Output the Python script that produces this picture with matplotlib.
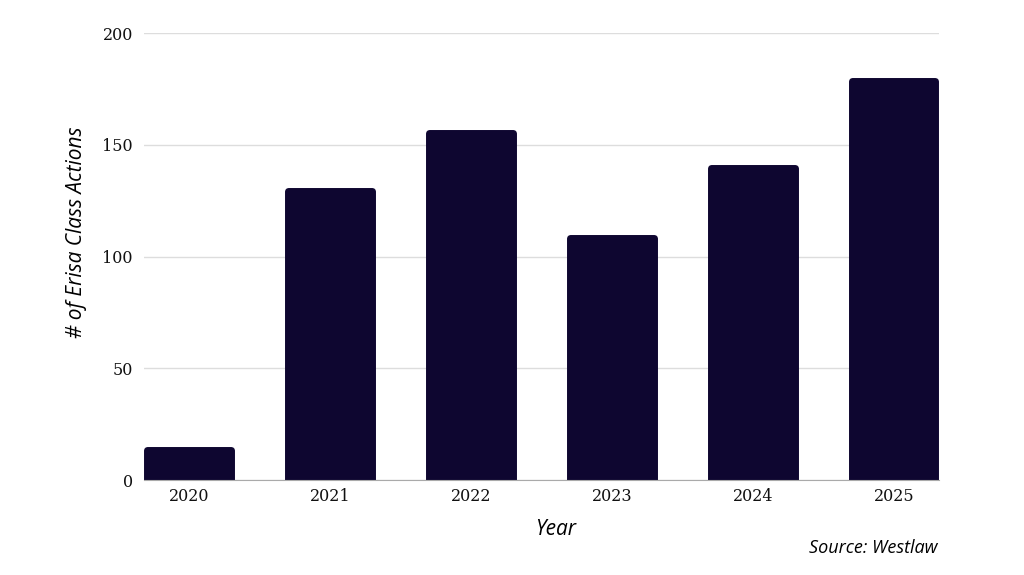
import matplotlib
matplotlib.use('Agg')
import matplotlib.pyplot as plt

years = ['2020', '2021', '2022', '2023', '2024', '2025']
actions = [15, 131, 157, 110, 141, 180]
y_ticks = [0, 50, 100, 150, 200]

bar_color = '#0e0630'

fig = plt.figure(figsize=(10.24, 5.75), dpi=100)
ax = fig.add_axes([0.1406, 0.1652, 0.7764, 0.7774])

x = range(len(years))
# thick round-joined edge gives the rounded corners; shrink the body to compensate
lw = 5
ax.bar(x, [v + 3 - 1.55 for v in actions], width=0.59, bottom=-3, color=bar_color,
       edgecolor=bar_color, linewidth=lw, joinstyle='round', zorder=3)

ax.set_xlim(-0.32, len(years) - 1 + 0.32)
ax.set_ylim(0, 200)
ax.set_yticks(y_ticks)
ax.set_xticks(list(x))
ax.set_xticklabels(years)
ax.yaxis.grid(True, color='#dddddd', linewidth=1, zorder=0)
ax.tick_params(length=0, labelsize=11.5)
ax.tick_params(axis='y', pad=8)
ax.tick_params(axis='x', pad=6)
for lab in ax.get_xticklabels() + ax.get_yticklabels():
    lab.set_fontfamily('DejaVu Serif')
    lab.set_color('#111111')

for side in ['top', 'right', 'left']:
    ax.spines[side].set_visible(False)
ax.spines['bottom'].set_color('#aaaaaa')
ax.spines['bottom'].set_zorder(4)

ax.set_xlabel('Year', fontsize=15, fontstyle='italic', family='Open Sans')
ax.xaxis.set_label_coords(0.518, -0.088)
ax.set_ylabel('# of Erisa Class Actions', fontsize=15, fontstyle='italic', family='Open Sans')
ax.yaxis.set_label_coords(-0.072, 0.555)

fig.text(0.916, 0.047, 'Source: Westlaw', ha='right', va='center', fontsize=13,
         fontstyle='italic', family='Open Sans')

fig.savefig('out.png', dpi=100)
